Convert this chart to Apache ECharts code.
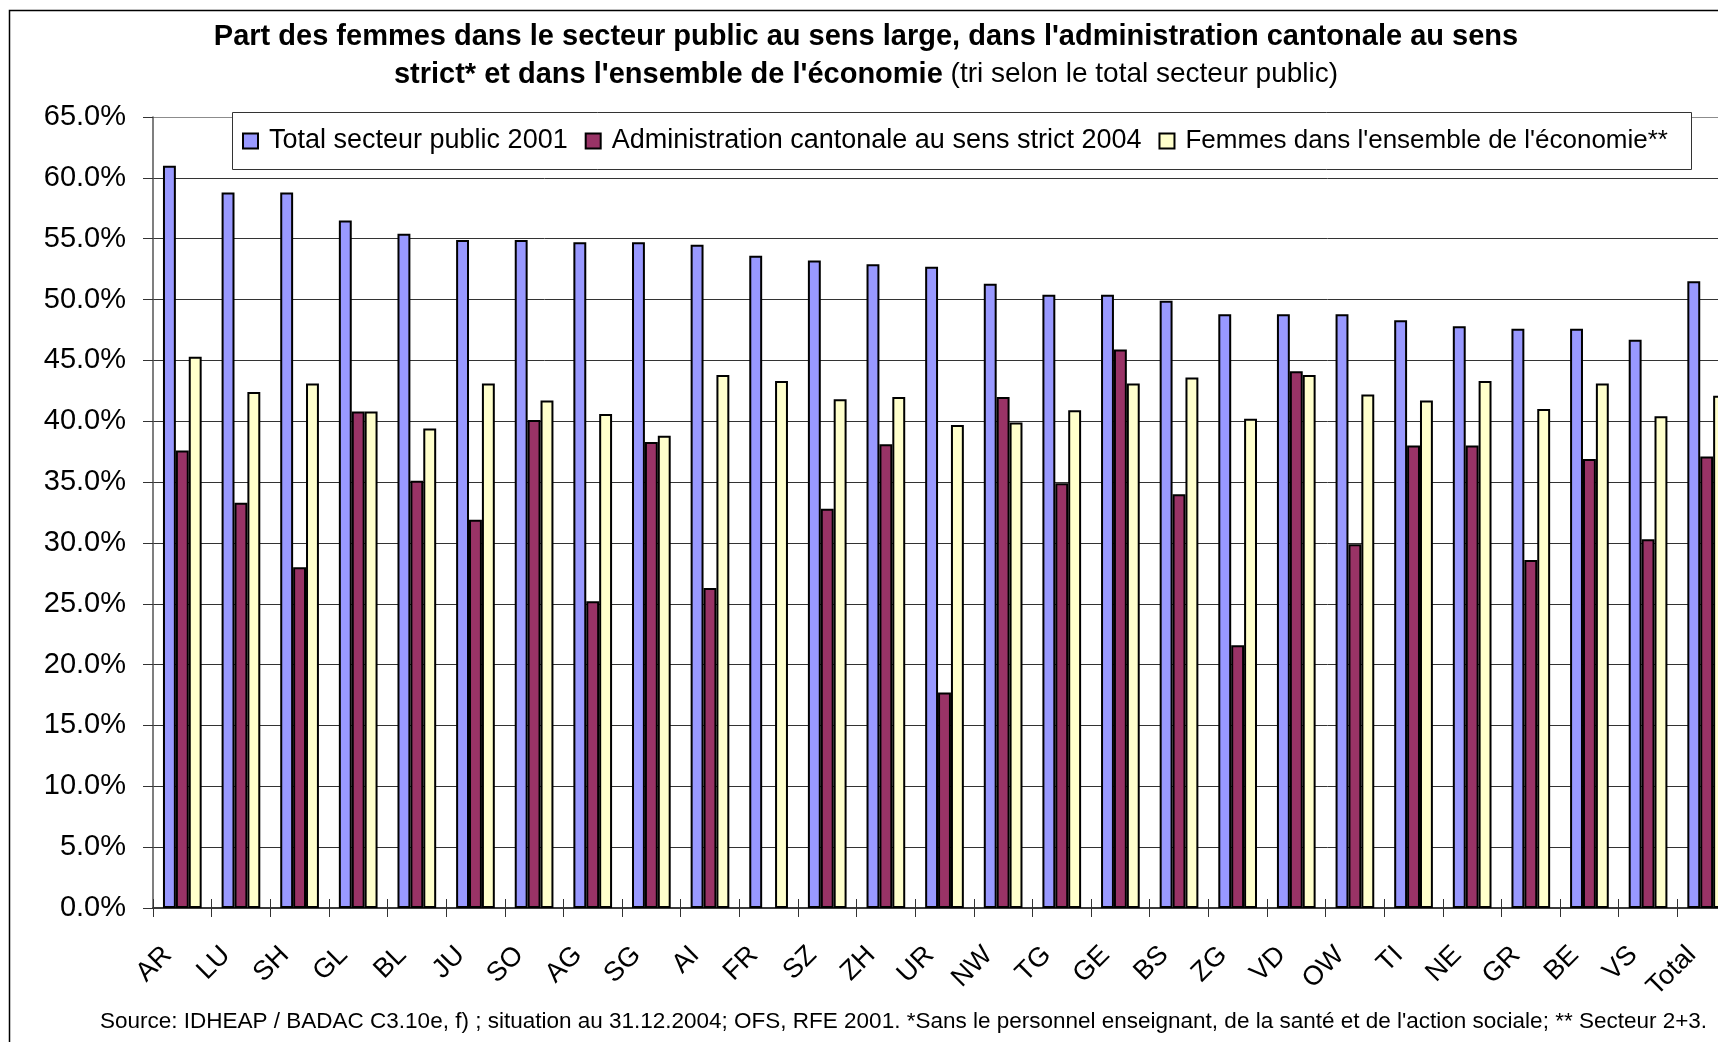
<!DOCTYPE html>
<html>
<head>
<meta charset="utf-8">
<title>Part des femmes dans le secteur public</title>
<script src="https://cdn.jsdelivr.net/npm/echarts@6/dist/echarts.min.js"></script>
<style>
  html, body { margin: 0; padding: 0; overflow: hidden; background: #ffffff; }
  #chart { width: 1718px; height: 1042px; }
</style>
</head>
<body>
<div id="chart"></div>
<script>
// Cantons, sorted by the public-sector total
const cantons = ['AR','LU','SH','GL','BL','JU','SO','AG','SG','AI','FR','SZ','ZH','UR','NW','TG','GE','BS','ZG','VD','OW','TI','NE','GR','BE','VS','Total'];

// Share of women, in percent
const publicTotal2001   = [61.0,58.8,58.8,56.5,55.4,54.9,54.9,54.7,54.7,54.5,53.6,53.2,52.9,52.7,51.3,50.4,50.4,49.9,48.8,48.8,48.8,48.3,47.8,47.6,47.6,46.7,51.5];
const cantonalAdmin2004 = [37.6,33.3,28.0,40.8,35.1,31.9,40.1,25.2,38.3,26.3,null,32.8,38.1,17.7,42.0,34.9,45.9,34.0,21.6,44.1,29.9,38.0,38.0,28.6,36.9,30.3,37.1];
const womenEconomy      = [45.3,42.4,43.1,40.8,39.4,43.1,41.7,40.6,38.8,43.8,43.3,41.8,42.0,39.7,39.9,40.9,43.1,43.6,40.2,43.8,42.2,41.7,43.3,41.0,43.1,40.4,42.1];

const seriesNames = [
  'Total secteur public 2001',
  'Administration cantonale au sens strict 2004',
  "Femmes dans l'ensemble de l'économie**"
];
const seriesColors = ['#9999FF', '#993366', '#FFFFCC'];

// Y axis: 0 % to 65 % in 5 % steps
const yMin = 0, yMax = 65, yStep = 5;

const titleLine1 = "Part des femmes dans le secteur public au sens large, dans l'administration cantonale au sens";
const titleLine2Bold = "strict* et dans l'ensemble de l'économie";
const titleLine2Plain = "(tri selon le total secteur public)";
const sourceNote = "Source: IDHEAP / BADAC C3.10e, f) ; situation au 31.12.2004; OFS, RFE 2001. *Sans le personnel enseignant, de la santé et de l'action sociale; ** Secteur 2+3.";

const FONT = '"Liberation Sans", Arial, Helvetica, sans-serif';

const chart = echarts.init(document.getElementById('chart'), null, { renderer: 'canvas' });

const splitColors = [];
for (let v = yMin; v <= yMax; v += yStep) splitColors.push(v === yMax ? '#8c8c8c' : '#333333');

const seriesData = [publicTotal2001, cantonalAdmin2004, womenEconomy];

chart.setOption({
  animation: false,
  backgroundColor: '#ffffff',
  textStyle: { fontFamily: FONT },
  grid: {
    left: 153, top: 117, right: -18, bottom: 134,
    containLabel: false,
    outerBoundsMode: 'none'
  },
  legend: {
    left: 242, top: 126,
    padding: 0,
    icon: 'rect',
    itemWidth: 15, itemHeight: 15,
    itemGap: 17,
    selectedMode: false,
    z: 10,
    itemStyle: { borderColor: '#000', borderWidth: 2 },
    textStyle: { fontFamily: FONT, fontSize: 27, color: '#000', lineHeight: 30, padding: [0, 0, 0, 6] },
    data: [
      { name: seriesNames[0] },
      { name: seriesNames[1] },
      { name: seriesNames[2], textStyle: { fontSize: 26 } }
    ]
  },
  xAxis: [
    {
      type: 'category',
      data: cantons,
      boundaryGap: true,
      axisLine: { lineStyle: { color: '#3a3a3a', width: 2 } },
      axisTick: { show: true, length: 9, alignWithLabel: false, lineStyle: { color: '#333', width: 1 } },
      axisLabel: {
        interval: 0, rotate: 45, margin: 28,
        padding: [0, 21, 0, 0],
        fontFamily: FONT, fontSize: 27, color: '#000'
      },
      splitLine: { show: false }
    },
    {
      // upper half of the crossing tick marks on the category axis
      type: 'category',
      data: cantons,
      position: 'top',
      offset: -791,
      boundaryGap: true,
      axisLine: { show: false },
      axisTick: { show: true, length: 9, lineStyle: { color: '#333', width: 1 } },
      axisLabel: { show: false },
      splitLine: { show: false }
    }
  ],
  yAxis: {
    type: 'value',
    min: yMin, max: yMax, interval: yStep,
    axisLine: { show: true, lineStyle: { color: '#555', width: 1.5 } },
    axisTick: { show: true, length: 10, lineStyle: { color: '#333', width: 1 } },
    axisLabel: {
      margin: 27, fontFamily: FONT, fontSize: 29, color: '#000',
      formatter: v => v.toFixed(1) + '%'
    },
    splitLine: { show: true, lineStyle: { color: splitColors, width: 1 } }
  },
  series: seriesNames.map((name, i) => ({
    name,
    type: 'bar',
    xAxisIndex: 0,
    data: seriesData[i],
    barGap: '0%',
    barCategoryGap: '34%',
    itemStyle: { color: seriesColors[i], borderColor: '#000', borderWidth: 2 },
    emphasis: { disabled: true }
  })),
  graphic: [
    {
      type: 'rect', silent: true, z: 100,
      shape: { x: 9.5, y: 10.5, width: 1800, height: 1200 },
      style: { fill: 'none', stroke: '#000', lineWidth: 1.5 }
    },
    {
      type: 'rect', silent: true, z: 3,
      shape: { x: 232.5, y: 112.5, width: 1459, height: 57 },
      style: { fill: '#ffffff', stroke: '#333', lineWidth: 1 }
    },
    {
      type: 'text', silent: true, z: 5,
      x: 866, y: 37,
      style: {
        text: titleLine1,
        font: 'bold 29px ' + FONT,
        fill: '#000',
        align: 'center', verticalAlign: 'middle',
        textAlign: 'center', textVerticalAlign: 'middle'
      }
    },
    {
      type: 'text', silent: true, z: 5,
      x: 866, y: 74.5,
      style: {
        text: '{b|' + titleLine2Bold + '}{n| ' + titleLine2Plain + '}',
        fill: '#000',
        align: 'center', verticalAlign: 'middle',
        textAlign: 'center', textVerticalAlign: 'middle',
        rich: {
          b: { font: 'bold 29px ' + FONT, fill: '#000' },
          n: { font: '28px ' + FONT, fill: '#000' }
        }
      }
    },
    {
      type: 'text', silent: true, z: 5,
      x: 100, y: 1022,
      style: {
        text: sourceNote,
        font: '22.5px ' + FONT,
        fill: '#000',
        align: 'left', verticalAlign: 'middle',
        textAlign: 'left', textVerticalAlign: 'middle'
      }
    }
  ]
});
</script>
</body>
</html>
